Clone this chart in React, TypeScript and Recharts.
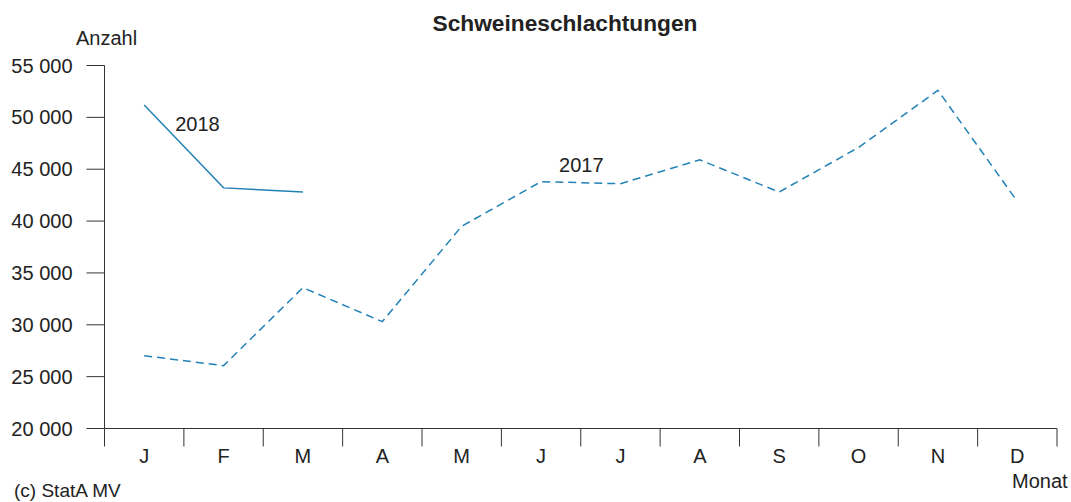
import { LineChart, Line, XAxis, YAxis, LabelList } from "recharts"

const months = ["J", "F", "M", "A", "M", "J", "J", "A", "S", "O", "N", "D"]
const values2017 = [27020, 26060, 33580, 30300, 39500, 43800, 43600, 45900, 42800, 47100, 52600, 41900]
const values2018 = [51200, 43200, 42800]
const yTicks = [20000, 25000, 30000, 35000, 40000, 45000, 50000, 55000]
const monthBounds = [0, 1, 2, 3, 4, 5, 6, 7, 8, 9, 10, 11, 12]
const monthCenters = months.map((_, i) => i + 0.5)

const data = months.map((m, i) => ({
  pos: i + 0.5,
  month: m,
  y2017: values2017[i],
  y2018: i < values2018.length ? values2018[i] : null,
}))

const FONT = "'Liberation Sans', Arial, sans-serif"
const TEXT = "#222"
const AXIS = "#333"
const LINE = "#2282b6"

function fmt(n: number) {
  return String(n).replace(/\B(?=(\d{3})+(?!\d))/g, " ")
}

function seriesLabel(text: string, at: number, dx: number, dy: number) {
  return (props: any) => {
    if (props.index !== at) return null
    return (
      <text x={Number(props.x) + dx} y={Number(props.y) + dy} fill={TEXT} fontSize={20} fontFamily={FONT}>
        {text}
      </text>
    )
  }
}

export default function App() {
  return (
    <div style={{ position: "absolute", left: 0, top: 0, width: 1071, height: 502, background: "#fff" }}>
      <LineChart
        width={1071}
        height={502}
        data={data}
        margin={{ top: 65.5, right: 14, bottom: 0, left: 0.5 }}
      >
        <XAxis
          xAxisId="bounds"
          type="number"
          dataKey="pos"
          domain={[0, 12]}
          ticks={monthBounds}
          tickFormatter={() => ""}
          tickSize={18}
          height={1}
          stroke={AXIS}
          tickLine={{ stroke: AXIS }}
        />
        <XAxis
          xAxisId="labels"
          type="number"
          dataKey="pos"
          domain={[0, 12]}
          ticks={monthCenters}
          tickFormatter={(v: number) => months[Math.floor(v)]}
          axisLine={false}
          tickLine={false}
          tickSize={0}
          tickMargin={19}
          height={72.5}
          tick={{ fill: TEXT, fontSize: 20, fontFamily: FONT }}
        />
        <YAxis
          type="number"
          domain={[20000, 55000]}
          ticks={yTicks}
          tickFormatter={fmt}
          width={104}
          tickSize={18}
          tickMargin={14}
          stroke={AXIS}
          tick={{ fill: TEXT, fontSize: 20, fontFamily: FONT }}
        />
        <Line
          xAxisId="labels"
          dataKey="y2017"
          stroke={LINE}
          strokeWidth={1.5}
          strokeDasharray="8 5"
          dot={false}
          activeDot={false}
          isAnimationActive={false}
        >
          <LabelList dataKey="y2017" content={seriesLabel("2017", 5, 18, -10)} />
        </Line>
        <Line
          xAxisId="labels"
          dataKey="y2018"
          stroke={LINE}
          strokeWidth={1.5}
          dot={false}
          activeDot={false}
          isAnimationActive={false}
        >
          <LabelList dataKey="y2018" content={seriesLabel("2018", 0, 31, 26)} />
        </Line>
      </LineChart>
      <svg
        width={1071}
        height={502}
        style={{ position: "absolute", left: 0, top: 0, pointerEvents: "none" }}
      >
        <text x={565} y={31} textAnchor="middle" fontSize={22.7} fontWeight="bold" fill={TEXT} fontFamily={FONT}>
          Schweineschlachtungen
        </text>
        <text x={76} y={45} fontSize={20} fill={TEXT} fontFamily={FONT}>
          Anzahl
        </text>
        <text x={1012} y={488} fontSize={20} fill={TEXT} fontFamily={FONT}>
          Monat
        </text>
        <text x={14} y={497} fontSize={19} fill={TEXT} fontFamily={FONT}>
          (c) StatA MV
        </text>
      </svg>
    </div>
  )
}
